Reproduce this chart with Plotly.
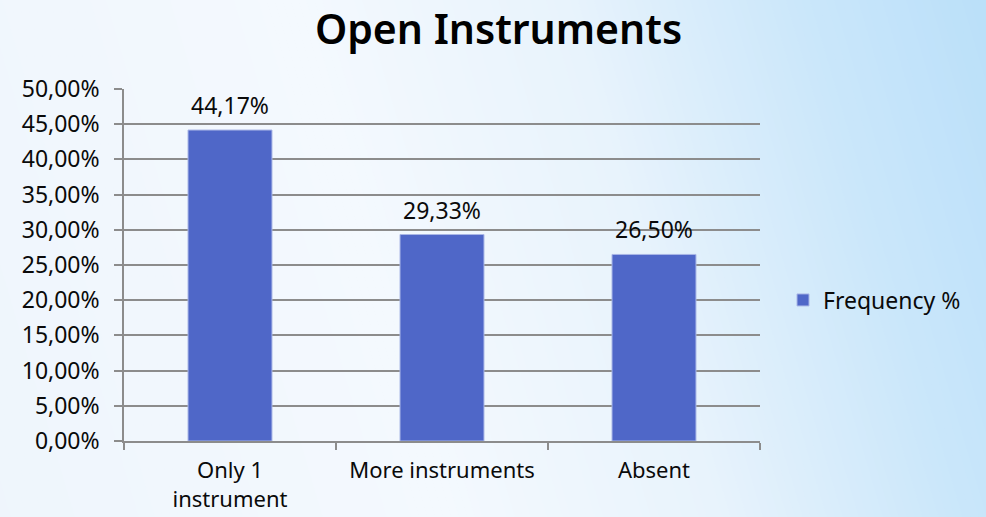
import plotly.graph_objects as go

categories = ["Only 1<br>instrument", "More instruments", "Absent"]
frequency = [0.4417, 0.2933, 0.2650]
series_name = "Frequency %"
title_text = "Open Instruments"

W, H = 986, 517
L, R, T, B = 124, 226, 89, 76
pw, ph = W - L - R, H - T - B

FONT = "Noto Sans"
TXT = "#0A0A0A"

fig = go.Figure()
fig.add_trace(go.Bar(
    x=categories, y=frequency, name=series_name,
    marker=dict(color="#4F67C8", line=dict(color="#A9B6E6", width=1)),
))

for c, v in zip(categories, frequency):
    fig.add_annotation(x=c, y=v, xref="x", yref="y", text=f"{v*100:.2f}%".replace(".", ","),
                       showarrow=False, yanchor="bottom", yshift=7,
                       font=dict(family=FONT, size=23, color=TXT))

# diagonal gradient background
def hexrgb(h):
    h = h.lstrip("#")
    return tuple(int(h[i:i+2], 16) for i in (0, 2, 4))

stops = [(-50, "#EEF5FC"), (450, "#F4F9FE"), (720, "#E8F3FC"), (950, "#CBE7FA"), (1200, "#B5DDF9")]

def col(c):
    if c <= stops[0][0]:
        return stops[0][1]
    for (a, ca), (b, cb) in zip(stops, stops[1:]):
        if a <= c <= b:
            f = (c - a) / (b - a)
            ra, rb = hexrgb(ca), hexrgb(cb)
            return "rgb(%d,%d,%d)" % tuple(round(ra[i] + f * (rb[i] - ra[i])) for i in range(3))
    return stops[-1][1]

k = 0.3
shapes = []
step = 8
cvals = list(range(-20, W + int(k * H) + 20, step))
def px2paper_x(x):
    return (x - L) / pw
def py2paper_y(y):
    return (H - B - y) / ph
for c in cvals:
    xb0, xb1 = c, c + step + 1
    xt0, xt1 = c - k * H, c + step + 1 - k * H
    path = "M %f,%f L %f,%f L %f,%f L %f,%f Z" % (
        px2paper_x(xb0), py2paper_y(H + 4), px2paper_x(xb1), py2paper_y(H + 4),
        px2paper_x(xt1), py2paper_y(-4), px2paper_x(xt0), py2paper_y(-4))
    shapes.append(dict(type="path", path=path, xref="paper", yref="paper",
                       fillcolor=col(c + step / 2), line=dict(width=0), layer="below"))

fig.update_layout(
    width=W, height=H, autosize=False,
    margin=dict(l=L, r=R, t=T, b=B, autoexpand=False),
    paper_bgcolor="#F2F8FD", plot_bgcolor="rgba(0,0,0,0)",
    separators=",.",
    shapes=shapes,
    font=dict(family=FONT, size=23, color=TXT),
    title=dict(text=title_text, x=0.5056, xref="container", xanchor="center",
               y=1 - 30 / H, yref="container", yanchor="middle",
               font=dict(family=FONT, size=41, color="#000000", weight=600)),
    bargap=0.604,
    showlegend=True,
    legend=dict(x=(783 - L) / pw, xanchor="left", y=(H - B - 300) / ph, yanchor="middle",
                bgcolor="rgba(0,0,0,0)", font=dict(family=FONT, size=23, color=TXT)),
    xaxis=dict(showline=True, linecolor="#8C8C8C", linewidth=1.5, automargin=False,
               ticks="outside", tickson="boundaries", ticklen=7, tickcolor="#8C8C8C", tickwidth=1.5,
               ticklabelstandoff=9,
               tickfont=dict(family=FONT, size=22, color=TXT), showgrid=False),
    yaxis=dict(range=[0, 0.5], dtick=0.05, tickformat=".2%", automargin=False,
               showline=True, linecolor="#8C8C8C", linewidth=1.5,
               ticks="outside", ticklen=8, tickcolor="#8C8C8C", tickwidth=1.5,
               ticklabelstandoff=10,
               showgrid=True, gridcolor="#8C8C8C", gridwidth=1.5, zeroline=False,
               tickfont=dict(family=FONT, size=23, color=TXT)),
)

fig.write_html("out.html", config={"displayModeBar": False},
               post_script="document.body.style.margin='0';document.body.style.overflow='hidden';")
